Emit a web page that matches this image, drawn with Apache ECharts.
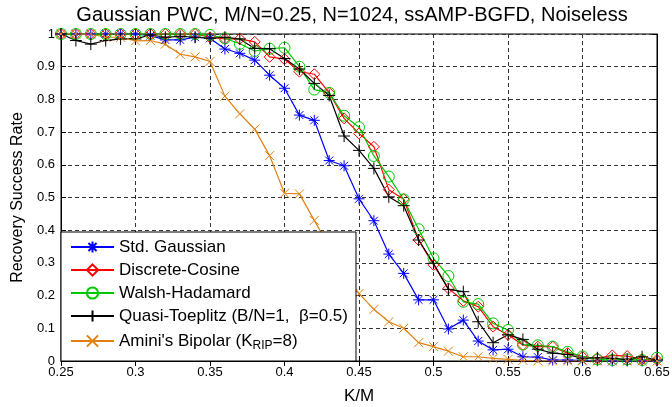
<!DOCTYPE html>
<html>
<head>
<meta charset="utf-8">
<script src="https://cdn.jsdelivr.net/npm/echarts@6/dist/echarts.min.js"></script>
<style>
  html, body { margin: 0; padding: 0; background: #fff; }
  #chart { width: 672px; height: 407px; }
</style>
</head>
<body>
<div id="chart"></div>
<script>
// K/M sample points
var kOverM = [0.25, 0.26, 0.27, 0.28, 0.29, 0.30, 0.31, 0.32, 0.33, 0.34,
  0.35, 0.36, 0.37, 0.38, 0.39, 0.40, 0.41, 0.42, 0.43, 0.44,
  0.45, 0.46, 0.47, 0.48, 0.49, 0.50, 0.51, 0.52, 0.53, 0.54,
  0.55, 0.56, 0.57, 0.58, 0.59, 0.60, 0.61, 0.62, 0.63, 0.64, 0.65]

// recovery success rate per matrix type
var stdGaussian = [1, 1, 1, 1, 1, 1, 0.995, 0.982, 0.982, 0.99,
  0.987, 0.954, 0.941, 0.92, 0.874, 0.834, 0.752, 0.736, 0.613, 0.597,
  0.496, 0.429, 0.327, 0.268, 0.187, 0.187, 0.098, 0.125, 0.061, 0.034,
  0.036, 0.013, 0.012, 0.003, 0.003, 0.002, 0.001, 0, 0, 0, 0]
var discreteCosine = [1, 1, 1, 1, 1, 1, 1, 1, 1, 1,
  0.99, 0.985, 0.985, 0.976, 0.93, 0.923, 0.885, 0.877, 0.82, 0.742,
  0.696, 0.655, 0.524, 0.495, 0.37, 0.294, 0.222, 0.184, 0.166, 0.105,
  0.08, 0.049, 0.044, 0.044, 0.024, 0.013, 0.008, 0.017, 0.015, 0.005, 0.003]
var walshHadamard = [1, 1, 1, 1, 1, 1, 1, 1, 1, 1,
  0.997, 0.987, 0.97, 0.948, 0.955, 0.958, 0.9, 0.83, 0.82, 0.75,
  0.715, 0.627, 0.564, 0.494, 0.403, 0.314, 0.26, 0.181, 0.174, 0.115,
  0.095, 0.05, 0.048, 0.044, 0.028, 0.014, 0.005, 0.003, 0.005, 0.003, 0.01]
var quasiToeplitz = [1, 0.98, 0.969, 0.98, 0.985, 0.985, 0.997, 0.99, 0.993, 0.99,
  0.987, 0.99, 0.985, 0.956, 0.955, 0.925, 0.893, 0.849, 0.812, 0.688,
  0.644, 0.589, 0.502, 0.475, 0.37, 0.299, 0.219, 0.212, 0.12, 0.056,
  0.08, 0.066, 0.036, 0.024, 0.02, 0.008, 0.01, 0.008, 0.005, 0.013, 0.003]
var aminiBipolar = [1, 1, 1, 0.99, 0.99, 0.979, 0.98, 0.969, 0.938, 0.93,
  0.916, 0.81, 0.756, 0.709, 0.628, 0.513, 0.511, 0.43, 0.35, 0.27,
  0.206, 0.158, 0.12, 0.1, 0.056, 0.044, 0.03, 0.013, 0.013, 0.008,
  0.005, 0.002, 0, 0, 0, 0, 0, 0, 0, 0, 0]

var seriesNames = ['Std. Gaussian', 'Discrete-Cosine', 'Walsh-Hadamard',
  'Quasi-Toeplitz (B/N=1,  β=0.5)', "Amini's Bipolar (K_RIP=8)"]

var FONT = '"Liberation Sans", Arial, Helvetica, sans-serif'

// marker shapes (matlab style, hollow)
var asterisk = 'path://M0 -5L0 5M-5 0L5 0M-3.6 -3.6L3.6 3.6M-3.6 3.6L3.6 -3.6'
var plus = 'path://M0 -5L0 5M-5 0L5 0'
var cross = 'path://M-5 -5L5 5M-5 5L5 -5'

function pairs (vals) {
  return kOverM.map(function (x, i) { return [x, vals[i]] })
}

function makeSeries (name, vals, color, symbol, size) {
  return {
    name: name,
    type: 'line',
    data: pairs(vals),
    symbol: symbol,
    symbolSize: size,
    showAllSymbol: true,
    animation: false,
    lineStyle: { color: color, width: 1.2 },
    itemStyle: { color: 'rgba(0,0,0,0)', borderColor: color, borderWidth: 1 },
    emphasis: { disabled: true }
  }
}

var myChart = echarts.init(document.getElementById('chart'))

var option = {
  backgroundColor: '#fff',
  animation: false,
  graphic: [{
    type: 'text',
    x: 352,
    y: 15,
    style: {
      text: 'Gaussian PWC, M/N=0.25, N=1024, ssAMP-BGFD, Noiseless',
      font: '20px ' + FONT,
      fill: '#000',
      align: 'center',
      verticalAlign: 'middle'
    }
  }],
  grid: {
    left: 61,
    right: 15,
    top: 34,
    bottom: 46,
    outerBoundsMode: 'none',
    show: true,
    borderColor: '#000',
    borderWidth: 1
  },
  legend: {
    orient: 'vertical',
    left: 61,
    top: 232,
    backgroundColor: '#fff',
    borderColor: '#000',
    borderWidth: 1,
    borderRadius: 0,
    padding: [6, 8, 9, 9],
    itemWidth: 43,
    itemHeight: 14,
    itemGap: 5,
    data: seriesNames,
    formatter: function (name) {
      if (name.indexOf('K_RIP') >= 0) {
        return "Amini's Bipolar (K{sub|RIP}=8)"
      }
      return name
    },
    textStyle: {
      fontFamily: FONT,
      fontSize: 17,
      color: '#000',
      lineHeight: 18,
      rich: {
        sub: { fontFamily: FONT, fontSize: 12, lineHeight: 18, padding: [10, 0, 0, 0] }
      }
    }
  },
  xAxis: [{
    type: 'value',
    min: 0.25,
    max: 0.65,
    interval: 0.05,
    name: 'K/M',
    nameLocation: 'middle',
    nameGap: 27,
    nameTextStyle: { fontFamily: FONT, fontSize: 17, color: '#000' },
    axisLine: { lineStyle: { color: '#000', width: 1 } },
    axisTick: { inside: true, length: 5, lineStyle: { color: '#000' } },
    axisLabel: {
      fontFamily: FONT, fontSize: 13, color: '#000', margin: 5,
      formatter: function (v) { return String(+v.toFixed(2)) }
    },
    splitLine: { show: true, lineStyle: { color: '#333', type: [4, 3], width: 1 } }
  }, {
    type: 'value',
    position: 'top',
    min: 0.25,
    max: 0.65,
    interval: 0.05,
    axisLine: { lineStyle: { color: '#000' } },
    axisTick: { inside: true, length: 5, lineStyle: { color: '#000' } },
    axisLabel: { show: false },
    splitLine: { show: false }
  }],
  yAxis: [{
    type: 'value',
    min: 0,
    max: 1,
    interval: 0.1,
    name: 'Recovery Success Rate',
    nameLocation: 'middle',
    nameGap: 31,
    nameTextStyle: { fontFamily: FONT, fontSize: 16, color: '#000' },
    axisLine: { show: true, lineStyle: { color: '#000', width: 1 } },
    axisTick: { show: true, inside: true, length: 5, lineStyle: { color: '#000' } },
    axisLabel: {
      fontFamily: FONT, fontSize: 13, color: '#000', margin: 6,
      formatter: function (v) { return String(+v.toFixed(1)) }
    },
    splitLine: { show: true, lineStyle: { color: '#333', type: [4, 3], width: 1 } }
  }, {
    type: 'value',
    position: 'right',
    min: 0,
    max: 1,
    interval: 0.1,
    axisLine: { show: true, lineStyle: { color: '#000' } },
    axisTick: { show: true, inside: true, length: 5, lineStyle: { color: '#000' } },
    axisLabel: { show: false },
    splitLine: { show: false }
  }],
  series: [
    makeSeries(seriesNames[0], stdGaussian, '#0000ff', asterisk, 11),
    makeSeries(seriesNames[1], discreteCosine, '#ff0000', 'diamond', 11),
    makeSeries(seriesNames[2], walshHadamard, '#00c800', 'circle', 11),
    makeSeries(seriesNames[3], quasiToeplitz, '#000000', plus, 12),
    makeSeries(seriesNames[4], aminiBipolar, '#e08010', cross, 9)
  ]
}

myChart.setOption(option)
</script>
</body>
</html>
